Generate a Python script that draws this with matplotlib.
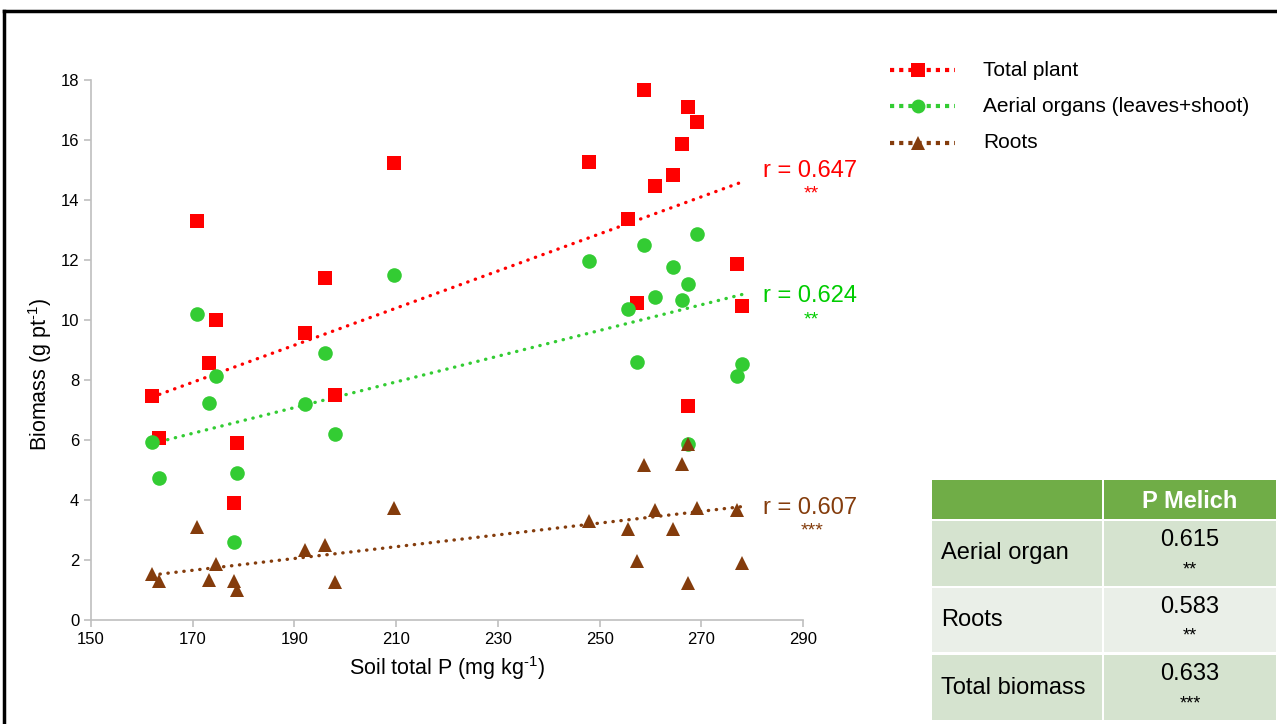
import matplotlib
matplotlib.use("Agg")
from matplotlib import pyplot as plt
from matplotlib.patches import Rectangle
import numpy as np

plt.rcParams['font.family'] = ['Liberation Sans', 'DejaVu Sans']
plt.rcParams['mathtext.fontset'] = 'custom'
plt.rcParams['mathtext.rm'] = 'Liberation Sans'
plt.rcParams['mathtext.it'] = 'Liberation Sans:italic'

# soil total P (mg/kg) for each pot, shared by the three series
soil_p = [162.0, 163.4, 170.8, 173.2, 174.5, 178.1, 178.8, 192.0, 196.0, 198.0,
          209.6, 247.9, 255.5, 257.4, 258.7, 260.9, 264.5, 266.3, 267.4, 269.1,
          267.4, 277.0, 278.0]
total_plant = [7.47, 6.07, 13.3, 8.57, 10.0, 3.9, 5.9, 9.57, 11.4, 7.5,
               15.23, 15.27, 13.37, 10.57, 17.67, 14.47, 14.83, 15.87, 17.1, 16.6,
               7.13, 11.87, 10.47]
aerial = [5.93, 4.73, 10.2, 7.23, 8.13, 2.6, 4.9, 7.2, 8.9, 6.2,
          11.5, 11.97, 10.37, 8.6, 12.5, 10.77, 11.77, 10.67, 11.2, 12.87,
          5.87, 8.13, 8.53]
roots = [1.53, 1.3, 3.1, 1.33, 1.87, 1.3, 1.0, 2.33, 2.5, 1.27,
         3.73, 3.3, 3.03, 1.97, 5.17, 3.67, 3.03, 5.2, 1.23, 3.73,
         5.87, 3.67, 1.9]

# trendline end values as drawn in the original (x from 162 to 278)
trend_x = [162.0, 278.0]
trend_total = [7.43, 14.6]
trend_aerial = [5.88, 10.85]
trend_roots = [1.5, 3.78]

series_names = ["Total plant", "Aerial organs (leaves+shoot)", "Roots"]
r_labels = ["r = 0.647", "r = 0.624", "r = 0.607"]
r_stars = ["**", "**", "***"]

table_header = "P Melich"
table_rows = ["Aerial organ", "Roots", "Total biomass"]
table_vals = ["0.615", "0.583", "0.633"]
table_stars = ["**", "**", "***"]

W, H = 1277, 724
fig = plt.figure(figsize=(12.77, 7.24), dpi=100)
ax = fig.add_axes([91/W, 1-620/H, 712/W, 540/H])

styles = [
    dict(marker='s', mfc='#FF0000', lc='#FF0000', tc='#FF0000', ms=10),
    dict(marker='o', mfc='#33CC33', lc='#33CC33', tc='#00CC00', ms=10.5),
    dict(marker='^', mfc='#843C0C', lc='#843C0C', tc='#843C0C', ms=10.5),
]
ys = [total_plant, aerial, roots]
trends = [trend_total, trend_aerial, trend_roots]
label_pos = [(14.97, 14.2), (10.8, 10.0), (3.73, 2.97)]
dots = (0, (0.1, 2.3))

x = np.array(soil_p)
for y, tr, st, rl, rs, (ly, sy) in zip(ys, trends, styles, r_labels, r_stars, label_pos):
    ax.plot(x, y, linestyle='none', marker=st['marker'], color=st['mfc'],
            markersize=st['ms'], markeredgewidth=0, zorder=3)
    ax.plot(trend_x, tr, color=st['lc'], lw=2.4, linestyle=dots,
            dash_capstyle='round', zorder=2)
    ax.text(291.3, ly, rl, color=st['tc'], fontsize=17, ha='center', va='center')
    ax.text(291.7, sy, rs, color=st['tc'], fontsize=14, ha='center', va='center')

ax.set_xlim(150, 290)
ax.set_ylim(0, 18)
ax.set_xticks(np.arange(150, 291, 20))
ax.set_yticks(np.arange(0, 19, 2))
for s in ['top', 'right']:
    ax.spines[s].set_visible(False)
for s in ['left', 'bottom']:
    ax.spines[s].set_color('#BFBFBF')
    ax.spines[s].set_linewidth(1.2)
ax.tick_params(axis='both', colors='#BFBFBF', labelcolor='black', labelsize=12,
               length=5, width=1.2)
ax.set_xlabel(r"Soil total P (mg kg$^{\text{-1}}$)", fontsize=15.5, labelpad=5)
ax.set_ylabel(r"Biomass (g pt$^{\text{-1}}$)", fontsize=15.5, labelpad=12)
ax.yaxis.set_label_coords(40/W, 350/H, transform=fig.transFigure)
ax.yaxis.label.set_verticalalignment('center')

# legend drawn by hand to mimic the original layout
leg_y = [70, 106, 143]
for st, name, py in zip(styles, series_names, leg_y):
    fy = 1 - py/H
    fig.lines.append(plt.Line2D([890/W, 955/W], [fy, fy], transform=fig.transFigure,
                                color=st['lc'], lw=3, linestyle=(0, (1, 1.2)),
                                dash_capstyle='butt'))
    fig.lines.append(plt.Line2D([918/W], [fy], transform=fig.transFigure,
                                marker=st['marker'], color=st['mfc'], markersize=st['ms'] - 0.5,
                                markeredgewidth=0, linestyle='none'))
    fig.text(983/W, fy, name, fontsize=15, va='center', ha='left')

# table
col1 = (932, 1102)
col2 = (1104, 1276)
row_edges = [(480, 519), (521, 586), (588, 652), (655, 720)]
fills = ['#70AD47', '#D5E3CF', '#EAEFE8', '#D5E3CF']
for (t, bt), fc in zip(row_edges, fills):
    for c0, c1 in [col1, col2]:
        fig.patches.append(Rectangle((c0/W, 1 - bt/H), (c1-c0)/W, (bt-t)/H,
                                     transform=fig.transFigure, facecolor=fc, edgecolor='none'))
cx = (col2[0] + col2[1]) / 2 / W
fig.text(cx, 1 - 501/H, table_header, color='white', fontsize=17,
         fontweight='bold', ha='center', va='center')
for (t, bt), rn, v, s in zip(row_edges[1:], table_rows, table_vals, table_stars):
    mid = (t + bt) / 2
    fig.text(941/W, 1 - mid/H, rn, fontsize=17, ha='left', va='center')
    fig.text(cx, 1 - (mid - 13)/H, v, fontsize=17, ha='center', va='center')
    fig.text(cx, 1 - (mid + 16)/H, s, fontsize=13, ha='center', va='center')

# black frame of the slide
fig.lines.append(plt.Line2D([4/W, 4/W], [0, 1 - 11/H], transform=fig.transFigure, color='black', lw=2.5))
fig.lines.append(plt.Line2D([4/W, 1], [1 - 11/H, 1 - 11/H], transform=fig.transFigure, color='black', lw=2.5))

fig.savefig("out.png", dpi=100)
